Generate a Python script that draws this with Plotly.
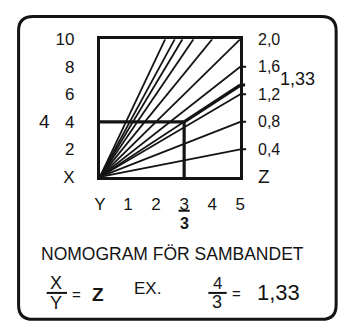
import plotly.graph_objects as go

# ---- data ----
y_ticks = [0, 1, 2, 3, 4, 5]
y_tick_labels = ["Y", "1", "2", "3", "4", "5"]
x_ticks = [0, 2, 4, 6, 8, 10]
x_tick_labels = ["X", "2", "4", "6", "8", "10"]
z_ticks = [0.0, 0.4, 0.8, 1.2, 1.6, 2.0]
z_tick_labels = ["Z", "0,4", "0,8", "1,2", "1,6", "2,0"]
z_fan = [0.4, 0.8, 1.2, 1.6, 2.0, 2.5, 3.0, 3.4, 3.75, 4.3]
example_x = 4
example_y = 3
example_z = 4 / 3
example_label = "1,33"

W, H = 345, 335
Y_MAX, X_MAX = 5, 10
FONT = "Liberation Sans"
INK = "#141414"


def px(x):
    return x / W


def py(y):
    return 1 - y / H


def fan_end(z):
    # end point of line X = z*Y inside the box [0,Y_MAX]x[0,X_MAX]
    if z * Y_MAX <= X_MAX:
        return Y_MAX, z * Y_MAX
    return X_MAX / z, X_MAX


fig = go.Figure()

for z in z_fan:
    ex, ey = fan_end(z)
    fig.add_trace(go.Scatter(x=[0, ex], y=[0, ey], mode="lines",
                             line=dict(color=INK, width=1.8), hoverinfo="skip"))

# example line X/Y = Z
ex, ey = fan_end(example_z)
fig.add_trace(go.Scatter(x=[0, ex], y=[0, ey], mode="lines",
                         line=dict(color=INK, width=1.8), hoverinfo="skip"))
fig.add_trace(go.Scatter(x=[example_y, ex], y=[example_x, ey], mode="lines",
                         line=dict(color=INK, width=3.4), hoverinfo="skip"))
# highlight rectangle
fig.add_trace(go.Scatter(x=[0, example_y, example_y], y=[example_x, example_x, 0],
                         mode="lines", line=dict(color=INK, width=3.2), hoverinfo="skip"))

shapes = []
# tick stubs on right side (Z scale)
for z in z_ticks[1:-1]:
    shapes.append(dict(type="line", xref="paper", yref="y",
                       x0=px(242), x1=px(248), y0=z * Y_MAX, y1=z * Y_MAX,
                       line=dict(color=INK, width=2)))
shapes.append(dict(type="line", xref="paper", yref="y",
                   x0=px(242), x1=px(247), y0=example_z * Y_MAX, y1=example_z * Y_MAX,
                   line=dict(color=INK, width=3)))

# underline under the example Y tick
shapes.append(dict(type="line", xref="x", yref="paper",
                   x0=example_y - 0.2, x1=example_y + 0.2, y0=py(214), y1=py(214),
                   line=dict(color=INK, width=2)))

# fraction bars
shapes.append(dict(type="line", xref="paper", yref="paper",
                   x0=px(42), x1=px(63), y0=py(301), y1=py(301),
                   line=dict(color=INK, width=2)))
shapes.append(dict(type="line", xref="paper", yref="paper",
                   x0=px(209), x1=px(228), y0=py(301), y1=py(301),
                   line=dict(color=INK, width=2)))

# outer rounded frame
l, t, r, b, rad = 13, 8, 341, 329, 15
path = (f"M {px(l+rad)} {py(t)} L {px(r-rad)} {py(t)} Q {px(r)} {py(t)} {px(r)} {py(t+rad)} "
        f"L {px(r)} {py(b-rad)} Q {px(r)} {py(b)} {px(r-rad)} {py(b)} "
        f"L {px(l+rad)} {py(b)} Q {px(l)} {py(b)} {px(l)} {py(b-rad)} "
        f"L {px(l)} {py(t+rad)} Q {px(l)} {py(t)} {px(l+rad)} {py(t)} Z")
shapes.append(dict(type="path", xref="paper", yref="paper", path=path,
                   line=dict(color=INK, width=3)))

ann = []
for z, lab in zip(z_ticks, z_tick_labels):
    ann.append(dict(xref="paper", yref="y", x=px(258), y=z * Y_MAX, text=lab,
                    xanchor="left", yanchor="middle", showarrow=False,
                    font=dict(family=FONT, size=16 if lab != "Z" else 19, color=INK)))
ann.append(dict(xref="paper", yref="y", x=px(281), y=example_z * Y_MAX + 0.45,
                text=example_label, xanchor="left", yanchor="middle", showarrow=False,
                font=dict(family=FONT, size=18, color=INK)))
ann.append(dict(xref="paper", yref="y", x=px(40), y=example_x, text=str(example_x),
                xanchor="center", yanchor="middle", showarrow=False,
                font=dict(family=FONT, size=19, color=INK)))
ann.append(dict(xref="x", yref="paper", x=example_y, y=py(227), text=f"<b>{example_y}</b>",
                xanchor="center", yanchor="middle", showarrow=False,
                font=dict(family=FONT, size=16, color=INK)))
ann.append(dict(xref="paper", yref="paper", x=px(172), y=py(260),
                text="NOMOGRAM FÖR SAMBANDET", xanchor="center", yanchor="middle",
                showarrow=False, font=dict(family=FONT, size=17.5, color=INK)))

def txt(x, y, s, size=17):
    ann.append(dict(xref="paper", yref="paper", x=px(x), y=py(y), text=s,
                    xanchor="center", yanchor="middle", showarrow=False,
                    font=dict(family=FONT, size=size, color=INK)))

txt(52, 291, "X", 18)
txt(52, 312, "Y", 18)
txt(73, 303, "=", 15)
txt(95, 303, "<b>Z</b>", 19)
txt(146, 296, "EX.", 17)
txt(218, 291, str(example_x), 17)
txt(218, 311, str(example_y), 18)
txt(238, 302, "=", 15)
txt(281, 301, example_label, 22)

fig.update_layout(
    width=W, height=H, margin=dict(l=0, r=0, t=0, b=0),
    paper_bgcolor="white", plot_bgcolor="white", showlegend=False,
    shapes=shapes, annotations=ann,
    xaxis=dict(domain=[px(97), px(242)], range=[0, Y_MAX], showgrid=False, zeroline=False,
               showline=True, mirror=True, linewidth=3, linecolor=INK, ticks="",
               tickvals=y_ticks, ticktext=y_tick_labels, ticklabelstandoff=10,
               tickfont=dict(family=FONT, size=17, color=INK), fixedrange=True),
    yaxis=dict(domain=[py(178), py(32)], range=[0, X_MAX], showgrid=False, zeroline=False,
               showline=True, mirror=True, linewidth=3, linecolor=INK, ticks="",
               tickvals=x_ticks, ticktext=x_tick_labels, ticklabelstandoff=19,
               tickfont=dict(family=FONT, size=17, color=INK), fixedrange=True),
)

fig.write_html(
    "out.html",
    config={"displayModeBar": False, "staticPlot": True},
    post_script="document.body.style.margin='0';document.body.style.padding='0';"
                "document.body.style.overflow='hidden';",
)
